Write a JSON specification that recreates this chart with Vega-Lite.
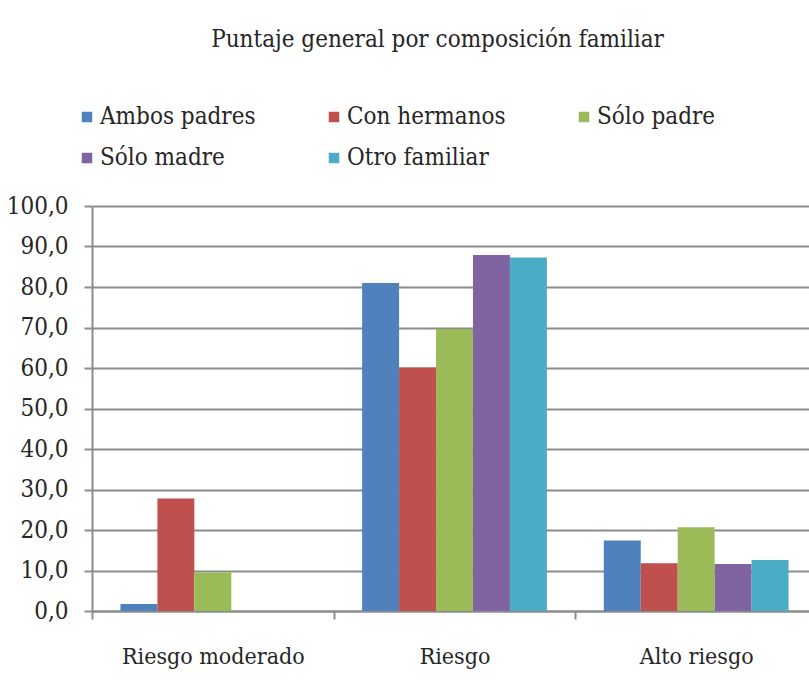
{
  "$schema": "https://vega.github.io/schema/vega-lite/v6.json",
  "width": 725,
  "height": 405,
  "autosize": {"type": "none"},
  "padding": {"left": 92, "top": 206, "right": 0, "bottom": 79},
  "background": "white",
  "title": {
    "text": "Puntaje general por composición  familiar",
    "font": "DejaVu Serif Condensed",
    "fontSize": 24,
    "fontWeight": "normal",
    "color": "#262626",
    "anchor": "middle",
    "frame": "group",
    "dx": -17,
    "offset": 53
  },
  "data": {
    "values": [
      {"riesgo": "Riesgo moderado", "grupo": "Ambos padres", "valor": 1.7},
      {"riesgo": "Riesgo moderado", "grupo": "Con hermanos", "valor": 27.8},
      {"riesgo": "Riesgo moderado", "grupo": "Sólo padre", "valor": 9.5},
      {"riesgo": "Riesgo moderado", "grupo": "Sólo madre", "valor": 0},
      {"riesgo": "Riesgo moderado", "grupo": "Otro familiar", "valor": 0},
      {"riesgo": "Riesgo", "grupo": "Ambos padres", "valor": 81.0},
      {"riesgo": "Riesgo", "grupo": "Con hermanos", "valor": 60.1},
      {"riesgo": "Riesgo", "grupo": "Sólo padre", "valor": 69.6},
      {"riesgo": "Riesgo", "grupo": "Sólo madre", "valor": 87.9},
      {"riesgo": "Riesgo", "grupo": "Otro familiar", "valor": 87.3},
      {"riesgo": "Alto riesgo", "grupo": "Ambos padres", "valor": 17.4},
      {"riesgo": "Alto riesgo", "grupo": "Con hermanos", "valor": 11.8},
      {"riesgo": "Alto riesgo", "grupo": "Sólo padre", "valor": 20.7},
      {"riesgo": "Alto riesgo", "grupo": "Sólo madre", "valor": 11.6},
      {"riesgo": "Alto riesgo", "grupo": "Otro familiar", "valor": 12.6}
    ]
  },
  "mark": {"type": "bar"},
  "encoding": {
    "x": {
      "field": "riesgo",
      "type": "nominal",
      "sort": ["Riesgo moderado", "Riesgo", "Alto riesgo"],
      "scale": {"paddingInner": 0, "paddingOuter": 0},
      "axis": {
        "title": null,
        "labelAngle": 0,
        "tickBand": "extent",
        "ticks": true,
        "tickSize": 8,
        "tickWidth": 2,
        "tickColor": "#8c8c8c",
        "domainColor": "#8c8c8c",
        "domainWidth": 2,
        "labelPadding": 26,
        "labelLimit": 400,
        "labelFont": "DejaVu Serif Condensed",
        "labelFontSize": 23,
        "labelColor": "#262626",
        "grid": false
      }
    },
    "xOffset": {
      "field": "grupo",
      "type": "nominal",
      "sort": ["Ambos padres", "Con hermanos", "Sólo padre", "Sólo madre", "Otro familiar"],
      "scale": {"paddingInner": 0, "paddingOuter": 0.77}
    },
    "y": {
      "field": "valor",
      "type": "quantitative",
      "scale": {"domain": [0, 100], "nice": false},
      "axis": {
        "title": null,
        "values": [0, 10, 20, 30, 40, 50, 60, 70, 80, 90, 100],
        "labelExpr": "replace(format(datum.value, '.1f'), '.', ',')",
        "grid": true,
        "gridColor": "#8c8c8c",
        "gridWidth": 2,
        "tickColor": "#8c8c8c",
        "tickSize": 8,
        "tickWidth": 2,
        "domainColor": "#8c8c8c",
        "domainWidth": 2,
        "labelPadding": 16,
        "labelFont": "DejaVu Serif Condensed",
        "labelFontSize": 24,
        "labelColor": "#262626"
      }
    },
    "color": {
      "field": "grupo",
      "type": "nominal",
      "scale": {
        "domain": ["Ambos padres", "Con hermanos", "Sólo padre", "Sólo madre", "Otro familiar"],
        "range": ["#4F81BD", "#C0504D", "#9BBB59", "#8064A2", "#4BACC6"]
      },
      "legend": {
        "title": null,
        "orient": "none",
        "legendX": -17,
        "legendY": -101,
        "columns": 3,
        "direction": "horizontal",
        "columnPadding": 66,
        "rowPadding": 17,
        "symbolType": "square",
        "symbolSize": 110,
        "symbolStrokeWidth": 0,
        "labelOffset": 1,
        "labelFont": "DejaVu Serif Condensed",
        "labelFontSize": 24,
        "labelColor": "#262626",
        "labelLimit": 300
      }
    }
  },
  "config": {
    "view": {"stroke": null}
  }
}
